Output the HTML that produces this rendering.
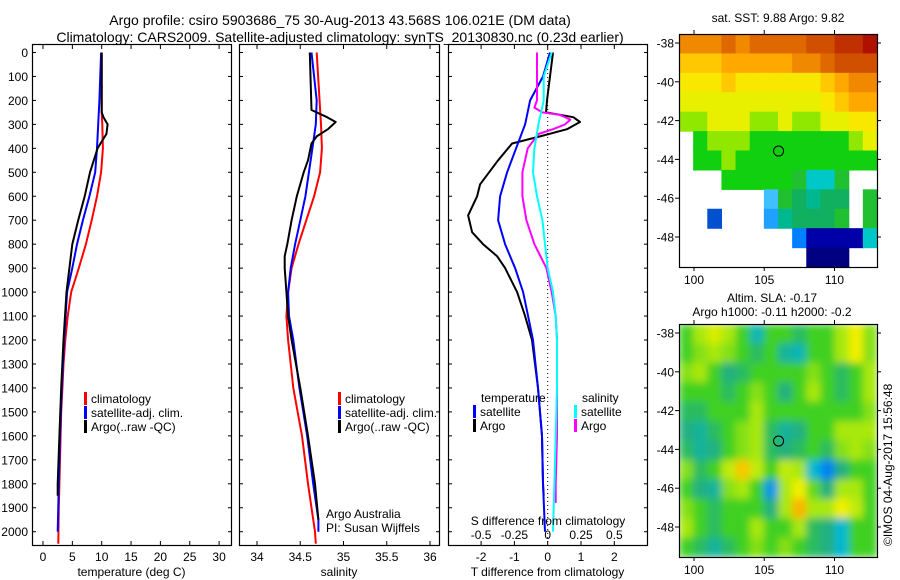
<!DOCTYPE html>
<html><head><meta charset="utf-8"><style>
body{margin:0;background:#fff}
svg{display:block;font-family:"Liberation Sans",sans-serif}
</style></head><body>
<svg id="fig" width="900" height="580" viewBox="0 0 900 580">
<defs>
<filter id="blur" x="0" y="0" width="100%" height="100%"><feGaussianBlur stdDeviation="4" edgeMode="duplicate"/></filter>
<clipPath id="slaclip"><rect x="679" y="324" width="198" height="233"/></clipPath>
</defs>
<text x="340" y="25" font-size="14" text-anchor="middle">Argo profile: csiro 5903686_75 30-Aug-2013 43.568S 106.021E (DM data)</text>
<text x="340" y="42" font-size="14" text-anchor="middle">Climatology: CARS2009. Satellite-adjusted climatology: synTS_20130830.nc (0.23d earlier)</text>
<text x="778" y="22" font-size="12" text-anchor="middle">sat. SST: 9.88 Argo: 9.82</text>
<text x="772" y="302" font-size="12" text-anchor="middle">Altim. SLA: -0.17</text>
<text x="772" y="316" font-size="12" text-anchor="middle">Argo h1000: -0.11 h2000: -0.2</text>
<text transform="translate(892,546) rotate(-90)" font-size="12">©IMOS 04-Aug-2017 15:56:48</text>
</svg>
<script>
// ---- data ----
const depthTicks=[0,100,200,300,400,500,600,700,800,900,1000,1100,1200,1300,1400,1500,1600,1700,1800,1900,2000];
const tempTicks=[0,5,10,15,20,25,30];
const salTicks=[34,34.5,35,35.5,36];
const salTickLabels=["34","34.5","35","35.5","36"];
const tdTicks=[-2,-1,0,1,2];
const sdTicks=[-0.5,-0.25,0,0.25,0.5];
const sdTickLabels=["-0.5","-0.25","0","0.25","0.5"];

const climTDepth=[0,250,300,400,500,600,700,800,900,1000,1100,1200,1300,1400,1500,1700,1900,2050];
const climT=[10,10,10.1,10.2,9.9,9.2,8.3,7.3,6.1,4.8,4.2,3.8,3.5,3.3,3.1,2.9,2.7,2.6];
const satTDepth=[0,200,300,400,500,600,700,800,900,1000,1200,1400,1600,1800,2000];
const satT=[9.9,9.6,9.4,9.2,8.9,7.9,6.8,5.8,5.0,4.1,3.6,3.2,2.9,2.7,2.5];
const argoTDepth=[0,250,270,300,340,380,400,500,600,700,800,900,1000,1200,1400,1600,1800,1850];
const argoT=[10,10,10.3,11,10.8,9.8,9.3,8.0,7.1,6.0,5.0,4.5,4.0,3.5,3.1,2.8,2.5,2.5];

const climSDepth=[0,300,400,500,600,700,800,900,1000,1100,1200,1400,1600,1800,2000,2050];
const climS=[34.69,34.74,34.75,34.73,34.66,34.57,34.48,34.40,34.36,34.34,34.36,34.42,34.52,34.59,34.67,34.68];
const satSDepth=[0,200,300,400,500,600,700,800,900,1000,1100,1200,1400,1600,1800,1950,2000];
const satS=[34.63,34.69,34.68,34.64,34.60,34.56,34.50,34.44,34.39,34.36,34.37,34.42,34.49,34.58,34.65,34.71,34.71];
const argoSDepth=[0,240,270,290,320,350,380,450,500,600,700,800,850,900,1000,1100,1200,1400,1600,1800,1950];
const argoS=[34.61,34.63,34.81,34.91,34.82,34.69,34.63,34.59,34.54,34.46,34.40,34.35,34.32,34.32,34.34,34.36,34.40,34.50,34.59,34.67,34.71];

const argoTdDepth=[0,200,250,270,290,320,350,380,450,550,600,680,750,800,850,900,1000,1100,1200,1400,1600,1800,1850];
const argoTd=[0.16,-0.02,-0.05,0.77,0.97,0.58,-0.23,-1.07,-1.49,-2.03,-2.12,-2.39,-2.27,-1.94,-1.52,-1.28,-0.92,-0.68,-0.47,-0.29,-0.17,-0.14,-0.12];
const satTdDepth=[0,100,200,300,400,500,600,700,800,900,1000,1100,1200,1400,1600,1800,2000];
const satTd=[0.07,-0.14,-0.53,-0.68,-0.95,-1.22,-1.43,-1.49,-1.28,-0.98,-0.74,-0.59,-0.44,-0.29,-0.17,-0.14,-0.08];
const argoSdDepth=[0,200,230,250,260,280,300,320,340,400,500,600,700,800,900,1000,1100,1200,1400,1600,1800,1880];
const argoSd=[-0.08,-0.08,-0.1,-0.04,0.09,0.17,0.13,0.04,-0.07,-0.15,-0.19,-0.19,-0.16,-0.1,-0.01,0.03,0.06,0.07,0.07,0.07,0.06,0.06];
const satSdDepth=[0,100,200,300,400,500,600,700,800,900,1000,1100,1200,1400,1600,1800,2000];
const satSd=[0.03,-0.03,-0.03,-0.07,-0.1,-0.11,-0.08,-0.04,-0.02,0,0.04,0.06,0.07,0.07,0.06,0.05,0.04];

const N=null;
const sstGrid=[
[13,13,13,13.5,13,13.5,13.5,13.5,13.5,14,14,14.5,14.5,15],
[12,12,12,12.5,12.5,12.5,12.5,12.5,13,13,13.5,14,14,14],
[11.5,11.5,11.5,12,11.5,11.5,11.5,11.5,11.5,11.5,12,12.5,13,13],
[11,11,11,11,11,11,11,11,11,11,11.5,12,12.5,12.5],
[10.5,10.5,11,11,11,10.5,10.5,11,10.5,10.5,11,11,11.5,11.5],
[N,10,10.5,10.5,10.5,10,10,10,10,10,10,10,10.5,11],
[N,10,10,10.5,10,10,10,10,10,10,10,10,10,10],
[N,N,N,10,10,10,10,10,9.5,8,8,9.5,N,N],
[N,N,N,N,N,N,7.5,9.5,9,8.5,9,9,N,9.5],
[N,N,6,N,N,N,7,8.5,9,9,9,9.5,N,9.5],
[N,N,N,N,N,N,N,N,6.5,5.5,5.5,5.5,5.5,8],
[N,N,N,N,N,N,N,N,N,5,5,5,N,N]];
const slaGrid=[
[0,0.3,0.5,0.3,0,-0.5,0,0,-0.2,0,0,0.3,0.6,0.2],
[0,0.2,0.3,0.2,0,-0.2,0,-0.4,-0.5,0,0,0.3,0.6,0.2],
[0.2,0.3,0,-0.3,-0.2,0,0,0,0,0.2,0,-0.2,0,0.3],
[0,0,0,-0.2,0,0.2,0,-0.3,0,0.3,0,-0.2,0,0.3],
[-0.2,-0.2,0,0,0,0.3,0,0,0,0,0,0,0,0.2],
[-0.3,-0.4,-0.2,0,0.2,0.3,-0.2,-0.4,-0.3,0,0,0.3,0.3,0.3],
[-0.2,-0.4,-0.3,0,0.2,0.3,-0.2,-0.3,-0.2,0,-0.2,0.2,0.3,0.2],
[0.2,-0.2,0,0.4,0.8,0.4,0,0.4,0.3,-0.6,-0.9,-0.3,0,0],
[0,-0.3,-0.4,0.2,0.3,0,-0.8,0.3,0.6,0.1,-0.3,0.3,0.3,0],
[0.2,0,-0.2,0,0,0,-0.3,0.3,0.9,0.3,0.3,0.6,0.4,0],
[0.3,0,-0.2,0,0,0.3,0,0,0.3,-0.2,-0.3,-0.6,0,0],
[0,-0.2,-0.4,-0.2,0,0.2,0,0.2,0,-0.2,-0.3,-0.6,0,0]];
const lonTicks=[100,105,110];
const latTicks=[-38,-40,-42,-44,-46,-48];
const argoLon=106.02, argoLat=-43.57;

// ---- helpers ----
const NS="http://www.w3.org/2000/svg";
const svg=document.getElementById('fig');
function mk(tag,at,parent){const e=document.createElementNS(NS,tag);for(const k in at)e.setAttribute(k,at[k]);(parent||svg).appendChild(e);return e;}
const yD=d=>52.5+d*0.2396;
const PT=545;
const xT=t=>43+t*5.87;
const xS=s=>257+(s-34)*86.5;
const xTd=v=>547.7+v*33.3;
const xSd=v=>547.7+v*133.3;

function panel(name,x0,x1,xticks,xfun,labels,xlabel,showDepth){
  const g=mk('g',{});
  
  
  const r=mk('rect',{x:x0+.5,y:44.5,width:x1-x0,height:PT-44,fill:'none',stroke:'#000','stroke-width':1.2},g);
  
  
  depthTicks.forEach((d,i)=>{
    const y=yD(d);
    mk('line',{x1:x0,x2:x0+4,y1:y,y2:y,stroke:'#000'},g);
    mk('line',{x1:x1-3,x2:x1+1,y1:y,y2:y,stroke:'#000'},g);
    if(showDepth){const t=mk('text',{x:28,y:y+4.5,'font-size':12,'text-anchor':'end'},g);t.textContent=d;
      
      }
  });
  xticks.forEach((v,i)=>{
    const x=xfun(v);
    mk('line',{x1:x,x2:x,y1:PT,y2:PT-4,stroke:'#000'},g);
    mk('line',{x1:x,x2:x,y1:45,y2:49,stroke:'#000'},g);
    if(labels){const t=mk('text',{x:x,y:561,'font-size':12,'text-anchor':'middle'},g);t.textContent=labels[i];
      
      }
  });
  const t=mk('text',{x:(x0+x1)/2,y:576,'font-size':12,'text-anchor':'middle'},g);t.textContent=xlabel;
  
  
  return g;
}
function line(name,depths,vals,xf,color,w){
  const p=depths.map((d,i)=>(i?'L':'M')+xf(vals[i]).toFixed(1)+','+yD(d).toFixed(1)).join('');
  const e=mk('path',{d:p,fill:'none',stroke:color,'stroke-width':w||2,'stroke-linejoin':'round'});
  
  
}
function legend(x,y,color,label,name){
  if(color){const b=mk('rect',{x:x,y:y-11,width:3,height:13,fill:color});
    
    }
  const t=mk('text',{x:x+(color?7:0),y:y,'font-size':12});t.textContent=label;
  
  
}
function txt(x,y,s,name,anchor){const t=mk('text',{x:x,y:y,'font-size':12,'text-anchor':anchor||'start'});t.textContent=s;
  
  }

// panel 1
panel('temperature-panel',32,231,tempTicks,xT,tempTicks.map(String),'temperature (deg C)',true);
line('temp-climatology-line',climTDepth,climT,xT,'#f00');
line('temp-satellite-line',satTDepth,satT,xT,'#00f');
line('temp-argo-line',argoTDepth,argoT,xT,'#000');
legend(84,403,'#f00','climatology','legend-climatology');
legend(84,417,'#00f','satellite-adj. clim.','legend-satellite');
legend(84,431,'#000','Argo(..raw -QC)','legend-argo');
// panel 2
panel('salinity-panel',239,439,salTicks,xS,salTickLabels,'salinity',false);
line('sal-climatology-line',climSDepth,climS,xS,'#f00');
line('sal-satellite-line',satSDepth,satS,xS,'#00f');
line('sal-argo-line',argoSDepth,argoS,xS,'#000');
legend(338,403,'#f00','climatology','legend-climatology-s');
legend(338,417,'#00f','satellite-adj. clim.','legend-satellite-s');
legend(338,431,'#000','Argo(..raw -QC)','legend-argo-s');
txt(326,518,'Argo Australia','argo-australia-credit');
txt(326,532,'PI: Susan Wijffels','pi-credit');
// panel 3
panel('difference-panel',448,647,tdTicks,xTd,tdTicks.map(String),'T difference from climatology',false);
const z=mk('line',{x1:xTd(0),x2:xTd(0),y1:45,y2:PT,stroke:'#000','stroke-dasharray':'1,3'});


line('t-diff-argo-line',argoTdDepth,argoTd,xTd,'#000');
line('t-diff-satellite-line',satTdDepth,satTd,xTd,'#00f');
line('s-diff-argo-line',argoSdDepth,argoSd,xSd,'#f0f');
line('s-diff-satellite-line',satSdDepth,satSd,xSd,'#0ff');
txt(481,402,'temperature','legend-temperature-header');
legend(473,416,'#00f','satellite','legend-t-satellite');
legend(473,430,'#000','Argo','legend-t-argo');
txt(582,402,'salinity','legend-salinity-header');
legend(574,416,'#0ff','satellite','legend-s-satellite');
legend(574,430,'#f0f','Argo','legend-s-argo');
txt(548,525,'S difference from climatology','s-axis-title','middle');
sdTicks.forEach((v,i)=>txt(xSd(v),539,sdTickLabels[i],'s-tick-label','middle'));

// maps
const MX0=679,MX1=877;
const lonX=l=>694+(l-100)*14.05;
function latY(top){return l=>top+9+(-38-l)*19.4;}
const sstStops=[5,5.5,6,6.5,7,7.5,8,8.5,9,9.5,10,10.5,11,11.5,12,12.5,13,13.5,14,14.5,15];
const sstCols=['#000080','#0000a8','#0050d0','#0080ff','#20a0ff','#40c0ff','#00c8c8','#00b890','#10b060','#20c030','#10d010','#90e800','#e8f000','#f8e800','#ffc800','#ffa800','#f08800','#e06800','#d05000','#c03000','#b01000'];
const slaStops=[-1,-0.6,-0.3,0,0.3,0.6,1];
const slaCols=['#0070ff','#00b8d0','#20b080','#40d020','#a8e810','#f0f000','#ffa000'];
function hex(c){return [1,3,5].map(i=>parseInt(c.substr(i,2),16));}
function cmap(v,stops,cols){
  if(v<=stops[0])return cols[0];
  for(let i=1;i<stops.length;i++){if(v<=stops[i]){const f=(v-stops[i-1])/(stops[i]-stops[i-1]);const a=hex(cols[i-1]),b=hex(cols[i]);
    return 'rgb('+a.map((x,k)=>Math.round(x+(b[k]-x)*f)).join(',')+')';}}
  return cols[cols.length-1];
}
function map(name,top,grid,stops,cols,smooth){
  const bottom=top+233, yl=latY(top);
  const g=mk('g',{});
  
  
  let cg=g;
  if(smooth){const w=mk('g',{'clip-path':'url(#slaclip)'},g);cg=mk('g',{filter:'url(#blur)'},w);}
  const rows=grid.length, ncol=grid[0].length;
  const cw=(MX1-MX0)/ncol, ch=(bottom-top)/rows;
  grid.forEach((row,r)=>row.forEach((v,c)=>{
    if(v===null)return;
    const e=mk('rect',{x:MX0+c*cw,y:top+r*ch,width:cw+0.6,height:ch+0.6,fill:cmap(v,stops,cols)},cg);
    
    
  }));
  const f=mk('rect',{x:MX0+.5,y:top+.5,width:MX1-MX0,height:bottom-top,fill:'none',stroke:'#000','stroke-width':1.2},g);
  
  
  lonTicks.forEach(l=>{const x=lonX(l);
    mk('line',{x1:x,x2:x,y1:bottom,y2:bottom+4,stroke:'#000'},g);
    mk('line',{x1:x,x2:x,y1:top,y2:top-4,stroke:'#000'},g);
    txt(x,bottom+17,String(l),'lon-tick-label','middle');});
  latTicks.forEach(l=>{const y=yl(l);
    mk('line',{x1:MX0-4,x2:MX0,y1:y,y2:y,stroke:'#000'},g);
    mk('line',{x1:MX1,x2:MX1+4,y1:y,y2:y,stroke:'#000'},g);
    txt(MX0-5,y+4.5,String(l),'lat-tick-label','end');});
  const c=mk('circle',{cx:lonX(argoLon),cy:yl(argoLat),r:5,fill:'none',stroke:'#000','stroke-width':1},g);
  
  
}
map('sst-map',34,sstGrid,sstStops,sstCols,false);
map('sla-map',324,slaGrid,slaStops,slaCols,true);
</script>
</body></html>
